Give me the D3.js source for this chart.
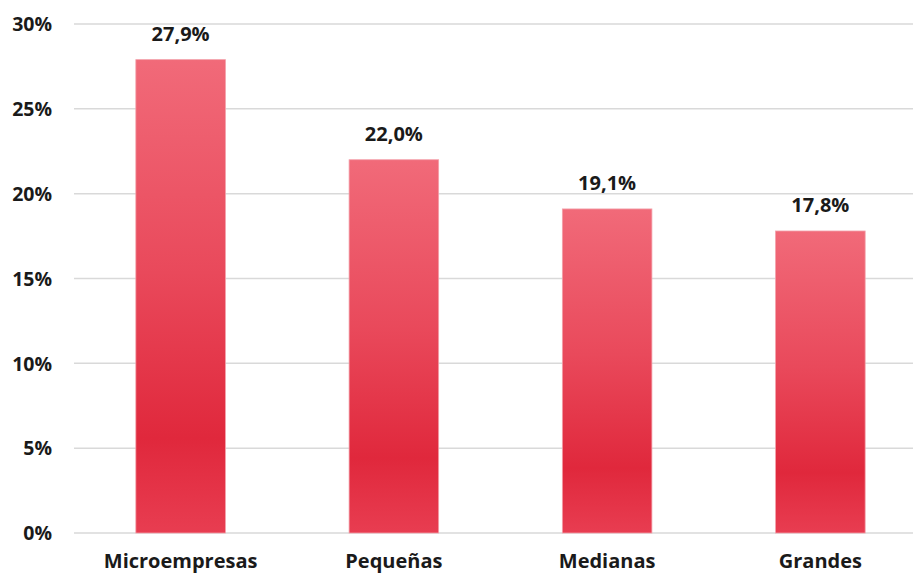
<!DOCTYPE html>
<html><head><meta charset="utf-8">
<script src="https://cdnjs.cloudflare.com/ajax/libs/d3/7.8.5/d3.min.js"></script>
<style>body{margin:0;background:#fff}svg{display:block}text{font-family:"Open Sans",sans-serif;font-weight:bold;fill:#1a1a1a}</style>
</head><body><svg id="c" width="913" height="574"></svg>
<script>
const categories = ["Microempresas","Pequeñas","Medianas","Grandes"];
const values = [27.9, 22.0, 19.1, 17.8];
const labels = ["27,9%","22,0%","19,1%","17,8%"];
const yTicks = [0,5,10,15,20,25,30];

const svg = d3.select("#c");
const x = d3.scaleBand().domain(categories).range([74, 927]).paddingInner(0.58).paddingOuter(0.29);
const y = d3.scaleLinear().domain([0,30]).range([533, 24]);

const defs = svg.append("defs");
const g = defs.append("linearGradient").attr("id","bg").attr("x1",0).attr("y1",0).attr("x2",0).attr("y2",1);
g.append("stop").attr("offset","0%").attr("stop-color","#f16a79");
g.append("stop").attr("offset","45%").attr("stop-color","#e9495b");
g.append("stop").attr("offset","80%").attr("stop-color","#e0283c");
g.append("stop").attr("offset","100%").attr("stop-color","#e83d51");

svg.append("g").selectAll("line").data(yTicks).join("line")
  .attr("x1",74).attr("x2",913).attr("y1",d=>y(d)).attr("y2",d=>y(d))
  .attr("stroke","#d9d9d9").attr("stroke-width",1.5);

const ya = svg.append("g").attr("transform","translate(52,0)")
  .call(d3.axisLeft(y).tickValues(yTicks).tickFormat(d=>d+"%").tickSize(0).tickPadding(0));
ya.select(".domain").remove();
ya.selectAll("text").attr("font-size","19.5px").attr("dy","0.35em").style("font-family","'Open Sans',sans-serif").style("font-weight","bold").attr("fill","#1a1a1a");

svg.append("g").selectAll("rect").data(values).join("rect")
  .attr("x",(d,i)=>x(categories[i])).attr("width",x.bandwidth())
  .attr("y",d=>y(d)).attr("height",d=>y(0)-y(d))
  .attr("fill","url(#bg)").attr("stroke","#f3a0aa").attr("stroke-width",0.8);

svg.append("g").selectAll("text").data(values).join("text")
  .attr("x",(d,i)=>x(categories[i])+x.bandwidth()/2).attr("y",d=>y(d)-19)
  .attr("text-anchor","middle").attr("font-size","20px").text((d,i)=>labels[i]);

const xa = svg.append("g").attr("transform","translate(0,533)")
  .call(d3.axisBottom(x).tickSize(0).tickPadding(0));
xa.select(".domain").remove();
xa.selectAll("text").attr("y",35).attr("dy",0).attr("font-size","20px").style("font-family","'Open Sans',sans-serif").style("font-weight","bold").attr("fill","#1a1a1a");
</script></body></html>
